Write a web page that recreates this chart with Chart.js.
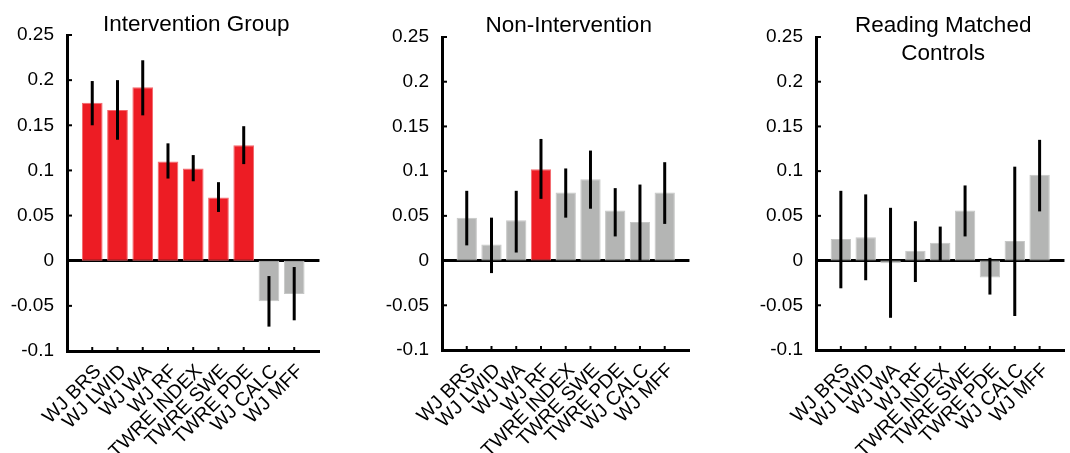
<!DOCTYPE html>
<html>
<head>
<meta charset="utf-8">
<script src="https://cdn.jsdelivr.net/npm/chart.js@4.4.1/dist/chart.umd.min.js"></script>
<style>
  body { margin: 0; width: 1070px; height: 453px; overflow: hidden; background: #fff; position: relative; }
  .panel { position: absolute; top: 0; height: 453px; width: 345px; }
</style>
</head>
<body>
<div class="panel" style="left:0px"><canvas id="c1"></canvas></div>
<div class="panel" style="left:370px"><canvas id="c2"></canvas></div>
<div class="panel" style="left:745px"><canvas id="c3"></canvas></div>
<script>
const categories = ['WJ BRS', 'WJ LWID', 'WJ WA', 'WJ RF', 'TWRE INDEX', 'TWRE SWE', 'TWRE PDE', 'WJ CALC', 'WJ MFF'];
const yTickLabels = ['-0.1', '-0.05', '0', '0.05', '0.1', '0.15', '0.2', '0.25'];

// Intervention Group
const interventionMean = [0.175, 0.167, 0.192, 0.110, 0.102, 0.070, 0.128, -0.045, -0.037];
const interventionLow  = [0.150, 0.134, 0.161, 0.091, 0.088, 0.054, 0.107, -0.073, -0.066];
const interventionHigh = [0.199, 0.200, 0.222, 0.130, 0.117, 0.087, 0.149, -0.017, -0.007];
const interventionSig  = [1, 1, 1, 1, 1, 1, 1, 0, 0];

// Non-Intervention
const nonInterventionMean = [0.048, 0.018, 0.045, 0.102, 0.076, 0.091, 0.056, 0.043, 0.076];
const nonInterventionLow  = [0.017, -0.014, 0.009, 0.069, 0.048, 0.058, 0.027, 0.000, 0.041];
const nonInterventionHigh = [0.078, 0.048, 0.078, 0.136, 0.103, 0.123, 0.081, 0.085, 0.110];
const nonInterventionSig  = [0, 0, 0, 1, 0, 0, 0, 0, 0];

// Reading Matched Controls
const controlsMean = [0.024, 0.026, -0.003, 0.011, 0.020, 0.056, -0.019, 0.022, 0.096];
const controlsLow  = [-0.031, -0.022, -0.064, -0.024, 0.000, 0.027, -0.038, -0.062, 0.055];
const controlsHigh = [0.078, 0.074, 0.059, 0.044, 0.038, 0.084, 0.003, 0.105, 0.135];
const controlsSig  = [0, 0, 0, 0, 0, 0, 0, 0, 0];

const RED = '#ED1C24', RED_EDGE = '#F2676C';
const GREY = '#B4B5B4', GREY_EDGE = '#C6C7C6';
const FONT = "'Liberation Sans', Arial, sans-serif";

Chart.defaults.font.family = FONT;
Chart.defaults.color = '#000';

function makePanel(id, titleLines, mean, low, high, sig, box) {
  const labels = [''].concat(categories, ['']);
  const values = [null].concat(mean, [null]);
  const fill = [null].concat(sig.map(s => s ? RED : GREY), [null]);
  const edge = [null].concat(sig.map(s => s ? RED_EDGE : GREY_EDGE), [null]);

  const decor = {
    id: 'decor',
    afterDatasetsDraw(chart) {
      const ctx = chart.ctx, xs = chart.scales.x, ys = chart.scales.y;
      ctx.save();
      ctx.strokeStyle = '#000';
      ctx.lineWidth = 3;
      ctx.lineCap = 'butt';
      for (let i = 0; i < mean.length; i++) {
        const x = xs.getPixelForValue(i + 1);
        ctx.beginPath();
        ctx.moveTo(x, ys.getPixelForValue(low[i]));
        ctx.lineTo(x, ys.getPixelForValue(high[i]));
        ctx.stroke();
      }
      ctx.restore();
    },
    afterDraw(chart) {
      const ctx = chart.ctx, xs = chart.scales.x, ys = chart.scales.y, a = chart.chartArea;
      ctx.save();
      ctx.strokeStyle = '#000';
      ctx.lineWidth = 2;
      // inward ticks
      ys.ticks.forEach(t => {
        const y = ys.getPixelForValue(t.value);
        ctx.beginPath();
        ctx.moveTo(a.left, y);
        ctx.lineTo(a.left + 5, y);
        ctx.stroke();
      });
      for (let i = 1; i <= categories.length; i++) {
        const x = xs.getPixelForValue(i);
        ctx.beginPath();
        ctx.moveTo(x, a.bottom);
        ctx.lineTo(x, a.bottom - 4);
        ctx.stroke();
      }
      // title
      ctx.fillStyle = '#000';
      ctx.font = '22.5px ' + FONT;
      ctx.textAlign = 'center';
      ctx.textBaseline = 'alphabetic';
      const cx = (a.left + a.right) / 2 + 3;
      titleLines.forEach((line, k) => ctx.fillText(line, cx, box.titleBase + k * 28));
      ctx.restore();
    }
  };

  return new Chart(document.getElementById(id), {
    type: 'bar',
    data: {
      labels: labels,
      datasets: [{
        data: values,
        backgroundColor: fill,
        borderColor: edge,
        borderWidth: 1,
        borderSkipped: false,
        barPercentage: 0.82,
        categoryPercentage: 1
      }]
    },
    options: {
      responsive: true,
      maintainAspectRatio: false,
      animation: false,
      layout: { padding: { top: box.top, right: box.right, left: 0, bottom: 0 } },
      plugins: { legend: { display: false }, tooltip: { enabled: false } },
      scales: {
        x: {
          offset: false,
          grid: { display: false, drawTicks: false, offset: false },
          border: { display: true, color: '#000', width: 3 },
          ticks: { autoSkip: false, minRotation: 45, maxRotation: 45, padding: 9, labelOffset: 6, font: { size: 19.5 } },
          afterFit: s => { s.height = box.bottom; }
        },
        y: {
          min: -0.1,
          max: 0.25,
          ticks: {
            stepSize: 0.05,
            padding: 13,
            font: { size: 19 },
            callback: (v, i) => yTickLabels[i]
          },
          grid: {
            drawTicks: false,
            lineWidth: 3,
            color: c => (c.tick && Math.abs(c.tick.value) < 1e-9) ? '#000' : 'rgba(0,0,0,0)'
          },
          border: { display: true, color: '#000', width: 3 },
          afterFit: s => { s.width = box.yWidth; }
        }
      }
    },
    plugins: [decor]
  });
}

makePanel('c1', ['Intervention Group'], interventionMean, interventionLow, interventionHigh, interventionSig,
  { yWidth: 67, top: 35, right: 13, bottom: 102, titleBase: 31 });
makePanel('c2', ['Non-Intervention'], nonInterventionMean, nonInterventionLow, nonInterventionHigh, nonInterventionSig,
  { yWidth: 72, top: 37, right: 10, bottom: 103, titleBase: 32 });
makePanel('c3', ['Reading Matched', 'Controls'], controlsMean, controlsLow, controlsHigh, controlsSig,
  { yWidth: 71, top: 37, right: 11, bottom: 103, titleBase: 31.5 });
</script>
</body>
</html>
